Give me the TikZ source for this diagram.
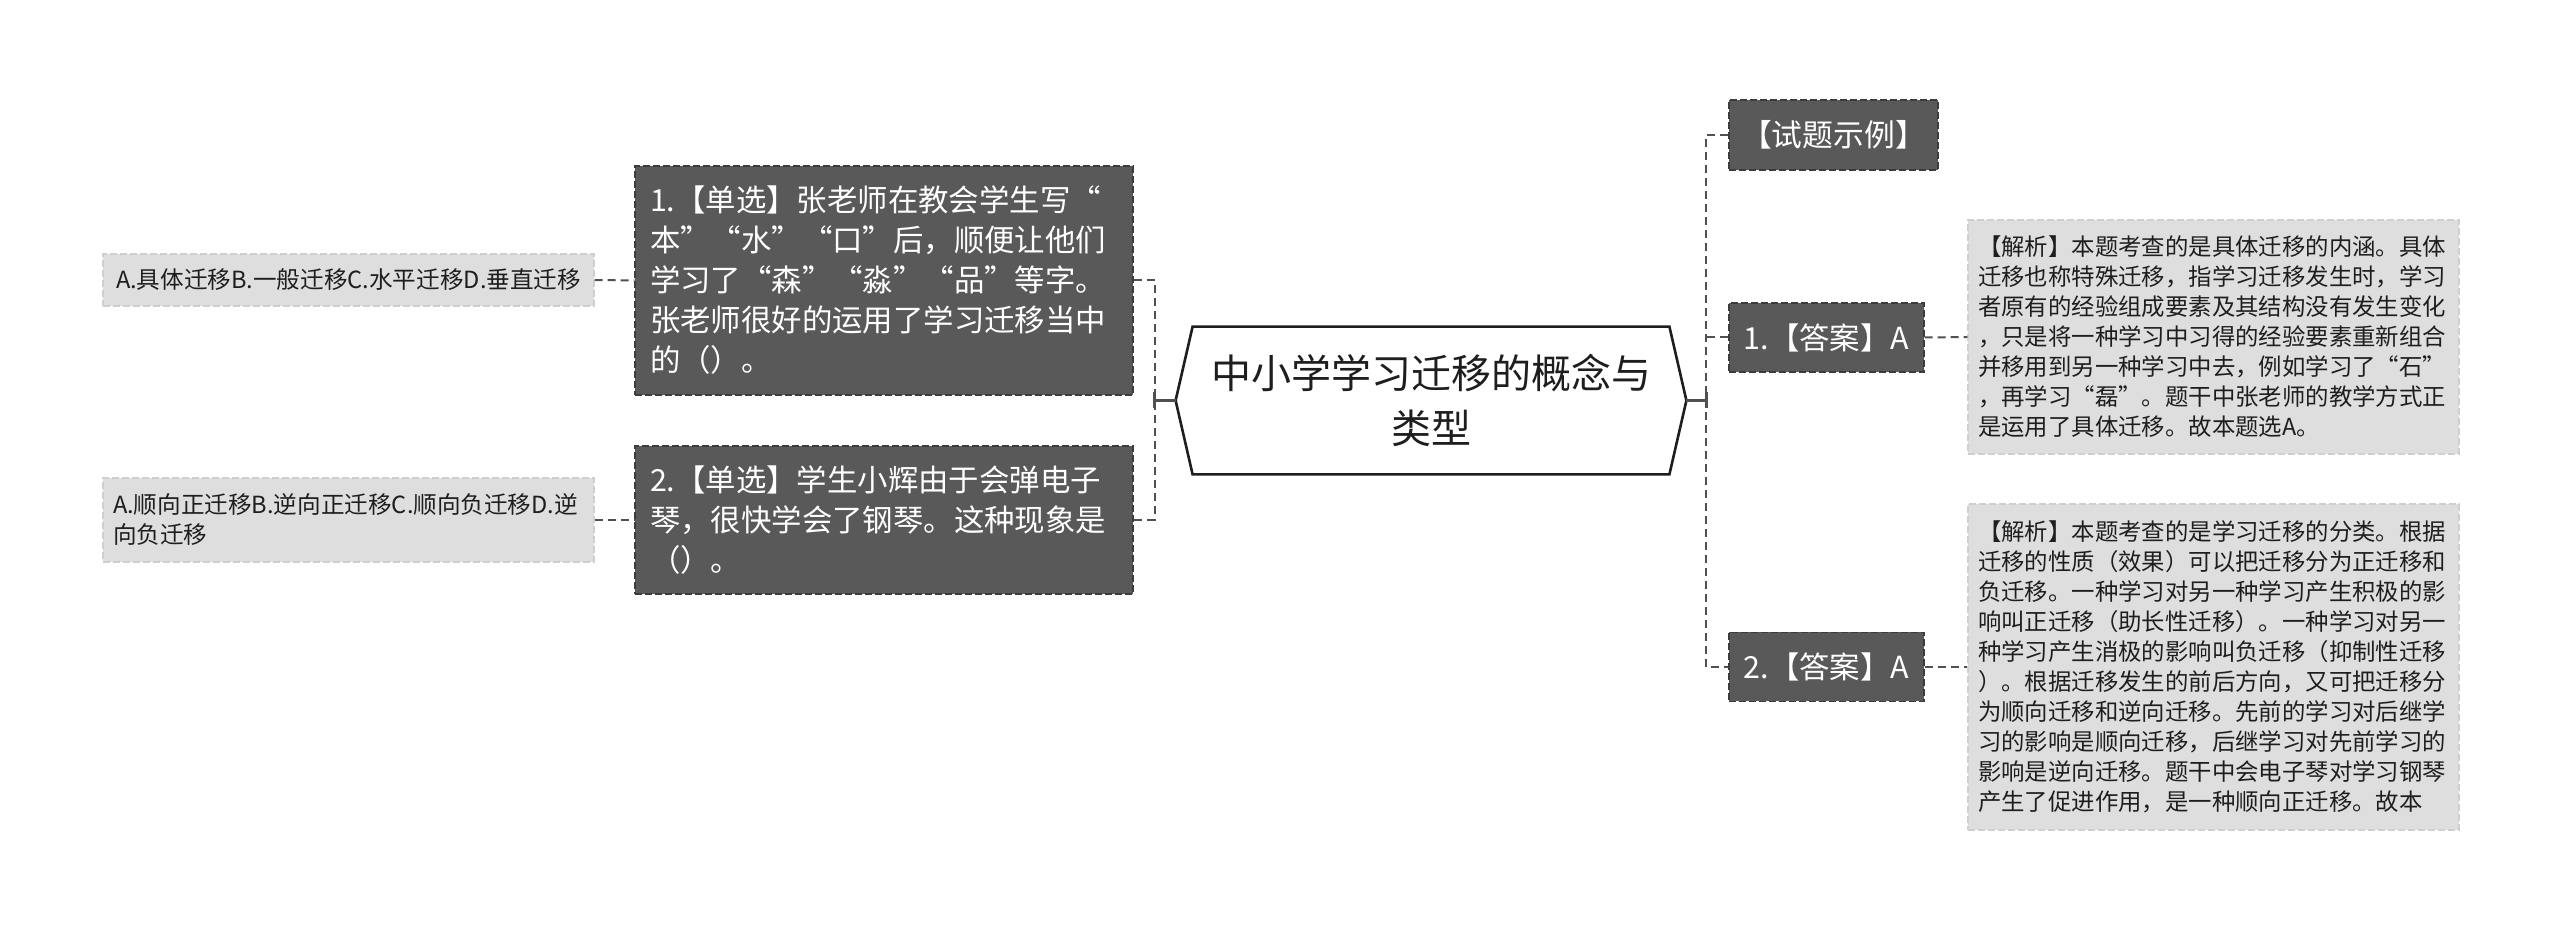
\documentclass[tikz,border=0pt]{standalone}
\usepackage{fontspec}
\setmainfont{Noto Sans CJK SC}
\definecolor{dk}{HTML}{595959}
\definecolor{dkb}{HTML}{3C3C3C}
\definecolor{lt}{HTML}{DEDEDE}
\definecolor{ltb}{HTML}{CFCFCF}
\definecolor{ln}{HTML}{505050}
\definecolor{tx}{HTML}{1E1E1E}
\begin{document}
\begin{tikzpicture}[x=0.5pt,y=-0.5pt,
  dkbox/.style={fill=dk, draw=dkb, dash pattern=on 3.5pt off 1.5pt, line width=0.6pt, text=white, inner sep=0pt},
  ltbox/.style={fill=lt, draw=ltb, dash pattern=on 3.5pt off 1.5pt, line width=0.6pt, text=tx, inner sep=0pt},
  conn/.style={draw=ln, line width=1pt, dash pattern=on 4pt off 2.5pt},
  solidconn/.style={draw=ln, line width=1.2pt},
  bigtext/.style={font=\fontsize{15.2pt}{20pt}\selectfont},
  smalltext/.style={font=\fontsize{11.7pt}{15pt}\selectfont},
]
\fill[white] (0,0) rectangle (2560,929);
\useasboundingbox (0,0) rectangle (2560,929);

% central title
\node[minimum width=255pt, minimum height=73.5pt, inner sep=0pt, align=center, text=tx,
      font=\fontsize{20pt}{27.5pt}\selectfont] (t) at (1431,400.5) {中小学学习迁移的概念与\\类型};
\draw[draw=tx, line width=1.3pt, line join=miter]
  (t.west) -- ([xshift=8.5pt]t.north west) -- ([xshift=-8.5pt]t.north east) -- (t.east)
  -- ([xshift=-8.5pt]t.south east) -- ([xshift=8.5pt]t.south west) -- cycle;

% left questions
\node[dkbox, bigtext, minimum width=249pt, minimum height=114.5pt, text width=234pt, align=left] (q1) at (884,280.5)
  {1.【单选】张老师在教会学生写“\\本”“水”“口”后，顺便让他们\\学习了“森”“淼”“品”等字。\\张老师很好的运用了学习迁移当中\\的（）。};
\node[dkbox, bigtext, minimum width=249pt, minimum height=74pt, text width=234pt, align=left] (q2) at (884,520)
  {2.【单选】学生小辉由于会弹电子\\琴，很快学会了钢琴。这种现象是\\（）。};

% options
\node[ltbox, font=\fontsize{11.8pt}{15pt}\selectfont, minimum width=245.5pt, minimum height=26pt, align=center] (o1) at (348.5,280)
  {A.具体迁移B.一般迁移C.水平迁移D.垂直迁移};
\node[ltbox, font=\fontsize{11.8pt}{15pt}\selectfont, minimum width=245.5pt, minimum height=42pt, text width=235.5pt, align=left] (o2) at (348.5,520)
  {A.顺向正迁移B.逆向正迁移C.顺向负迁移D.逆\\向负迁移};

% right side
\node[dkbox, font=\fontsize{15.4pt}{18pt}\selectfont, minimum width=104.5pt, minimum height=35pt, align=center] (ex) at (1833.5,135) {【试题示例】};
\node[dkbox, font=\fontsize{15.2pt}{18pt}\selectfont, minimum width=97.5pt, minimum height=34.5pt, align=center] (a1) at (1826.5,337.5) {1.【答案】A};
\node[dkbox, font=\fontsize{15.2pt}{18pt}\selectfont, minimum width=97.5pt, minimum height=34.5pt, align=center] (a2) at (1826.5,667) {2.【答案】A};

\node[ltbox, smalltext, minimum width=245.5pt, minimum height=117pt, text width=235.5pt, align=left] (n1) at (2213.5,337)
  {【解析】本题考查的是具体迁移的内涵。具体\\迁移也称特殊迁移，指学习迁移发生时，学习\\者原有的经验组成要素及其结构没有发生变化\\，只是将一种学习中习得的经验要素重新组合\\并移用到另一种学习中去，例如学习了“石”\\，再学习“磊”。题干中张老师的教学方式正\\是运用了具体迁移。故本题选A。};
\node[ltbox, smalltext, minimum width=245.5pt, minimum height=163pt, text width=235.5pt, align=left] (n2) at (2213.5,667)
  {【解析】本题考查的是学习迁移的分类。根据\\迁移的性质（效果）可以把迁移分为正迁移和\\负迁移。一种学习对另一种学习产生积极的影\\响叫正迁移（助长性迁移）。一种学习对另一\\种学习产生消极的影响叫负迁移（抑制性迁移\\）。根据迁移发生的前后方向，又可把迁移分\\为顺向迁移和逆向迁移。先前的学习对后继学\\习的影响是顺向迁移，后继学习对先前学习的\\影响是逆向迁移。题干中会电子琴对学习钢琴\\产生了促进作用，是一种顺向正迁移。故本};

% junctions
\coordinate (lj) at ([xshift=-10.5pt]t.west);
\coordinate (rj) at ([xshift=10pt]t.east);

% left connectors
\draw[conn] (q1.east) -| (lj) |- (q2.east);
\draw[solidconn] (t.west) -- (lj);
\draw[solidconn] ([yshift=4pt]lj) -- ([yshift=-4pt]lj);
\draw[conn] (o1.east) -- (q1.west);
\draw[conn] (o2.east) -- (q2.west);

% right connectors
\draw[conn] (ex.west) -| (rj) |- (a2.west);
\draw[conn] (a1.west) -- (a1.west -| rj);
\draw[solidconn] (t.east) -- (rj);
\draw[solidconn] ([yshift=4pt]rj) -- ([yshift=-4pt]rj);
\draw[conn] (a1.east) -- (n1.west);
\draw[conn] (a2.east) -- (n2.west);
\end{tikzpicture}
\end{document}
